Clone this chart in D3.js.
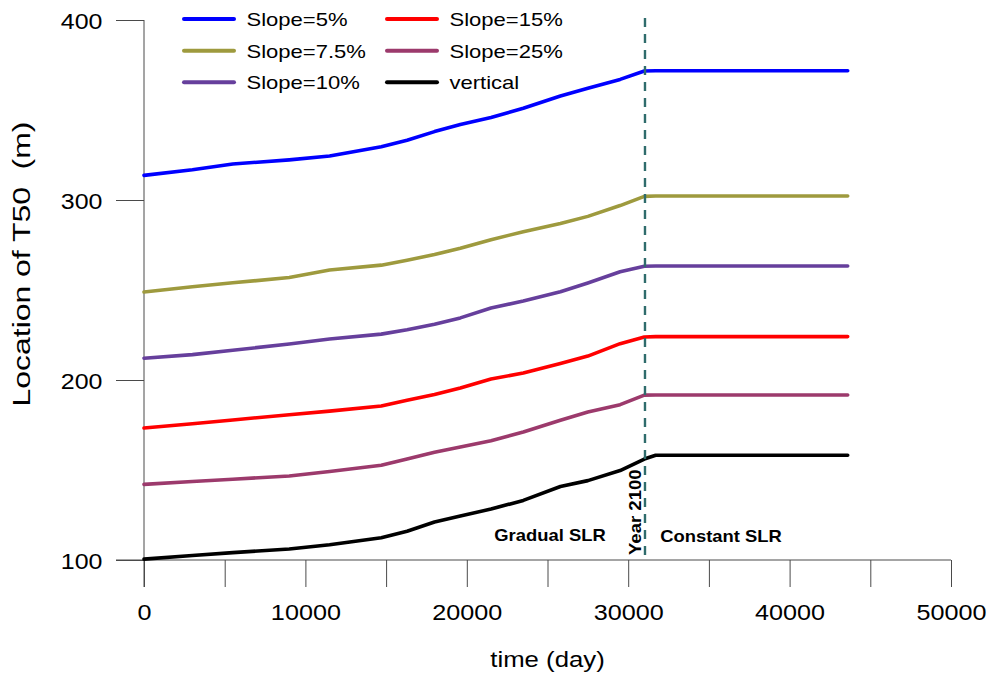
<!DOCTYPE html>
<html>
<head>
<meta charset="utf-8">
<script src="https://cdn.jsdelivr.net/npm/d3@7"></script>
<style>
  html, body { margin: 0; padding: 0; background: #fff; }
  svg { display: block; }
  text { font-family: "Liberation Sans", Arial, Helvetica, sans-serif; fill: #000; }
</style>
</head>
<body>
<svg id="chart" width="993" height="677"></svg>
<script>
// Time (days) at which the shoreline T50 location is sampled
const days = [0, 3000, 5500, 9000, 11500, 14700, 16300, 18000, 19600, 21500, 23500, 25800, 27500, 29500, 31000, 31700, 43600];

// T50 location (m) for each beach slope
const slope5   = [313.7, 316.8, 320.0, 322.3, 324.4, 329.6, 333.2, 338.0, 341.9, 345.8, 351.0, 357.8, 362.1, 367.0, 371.7, 371.8, 371.8];
const slope7_5 = [248.9, 251.8, 254.0, 256.9, 261.1, 263.8, 266.5, 269.7, 273.2, 277.9, 282.4, 287.0, 290.9, 296.9, 302.0, 302.2, 302.2];
const slope10  = [212.1, 214.1, 216.5, 220.0, 222.8, 225.5, 227.9, 231.0, 234.5, 240.0, 243.9, 249.0, 253.9, 260.1, 263.2, 263.3, 263.3];
const slope15  = [173.3, 175.7, 177.8, 180.7, 182.7, 185.6, 188.7, 192.0, 195.6, 200.5, 203.9, 209.2, 213.3, 220.2, 223.9, 224.1, 224.1];
const slope25  = [142.0, 143.6, 144.9, 146.7, 149.2, 152.6, 156.1, 159.9, 162.8, 166.3, 171.1, 177.6, 182.2, 186.3, 191.6, 191.7, 191.7];
const vertical = [100.5, 102.5, 104.1, 106.1, 108.5, 112.4, 116.0, 121.1, 124.4, 128.3, 133.1, 140.8, 144.1, 149.7, 156.1, 158.2, 158.2];

const seriesNames  = ["Slope=5%", "Slope=7.5%", "Slope=10%", "Slope=15%", "Slope=25%", "vertical"];
const seriesValues = [slope5, slope7_5, slope10, slope15, slope25, vertical];
const seriesColors = ["#0000ff", "#9e9a3e", "#663f9c", "#ff0000", "#9c3a6c", "#000000"];

// Axis ticks
const xTicks = d3.range(0, 50001, 5000);
const xLabelTicks = [0, 10000, 20000, 30000, 40000, 50000];
const yTicks = [100, 200, 300, 400];

// End of the gradual sea-level-rise period
const year2100Day = 31040;

const svg = d3.select("#chart");

const x = d3.scaleLinear().domain([0, 50000]).range([144, 951]);
const y = d3.scaleLinear().domain([100, 400]).range([560, 20]);

const axisColor = "#4a4a4a";

// ---- x axis ----
const xAxis = d3.axisBottom(x)
  .tickValues(xTicks)
  .tickSize(27)
  .tickPadding(17)
  .tickFormat(d => xLabelTicks.includes(d) ? String(d) : "");

const gx = svg.append("g")
  .attr("transform", `translate(0,${y(100)})`)
  .call(xAxis);
gx.select(".domain").remove();
gx.selectAll(".tick line").attr("stroke", axisColor);
gx.selectAll(".tick text")
  .attr("font-size", 22.5)
  .attr("font-family", null)
  .attr("fill", "#000")
  .attr("transform", "scale(1.12,1)");

// ---- y axis ----
const yAxis = d3.axisLeft(y)
  .tickValues(yTicks)
  .tickSize(28)
  .tickFormat(d3.format("d"));

const gy = svg.append("g")
  .attr("transform", `translate(${x(0)},0)`)
  .call(yAxis);
gy.select(".domain").remove();
gy.selectAll(".tick line").attr("stroke", axisColor);
gy.selectAll(".tick text")
  .attr("font-size", 22.5)
  .attr("font-family", null)
  .attr("fill", "#000")
  .attr("x", 0)
  .attr("dy", "0.38em")
  .attr("transform", "translate(-41.5,0) scale(1.11,1)");

// axis lines
svg.append("line")
  .attr("x1", x(0) - 28).attr("x2", x(50000))
  .attr("y1", y(100)).attr("y2", y(100))
  .attr("stroke", axisColor).attr("stroke-width", 1);
svg.append("line")
  .attr("x1", x(0)).attr("x2", x(0))
  .attr("y1", y(400)).attr("y2", y(100) + 27)
  .attr("stroke", axisColor).attr("stroke-width", 1);

// ---- axis titles ----
svg.append("text")
  .attr("text-anchor", "middle")
  .attr("font-size", 23)
  .attr("transform", `translate(${(x(0) + x(50000)) / 2},667) scale(1.12,1)`)
  .text("time (day)");

const yTitle = svg.append("text")
  .attr("text-anchor", "middle")
  .attr("font-size", 23)
  .style("white-space", "pre")
  .text("Location of T50  (m)");
const yTitleLen = yTitle.node().getComputedTextLength();
yTitle.attr("transform", `translate(30,264) rotate(-90) scale(${285 / yTitleLen},1)`);

// ---- data lines ----
const line = d3.line()
  .x(d => x(d[0]))
  .y(d => y(d[1]));

seriesValues.forEach((vals, i) => {
  svg.append("path")
    .datum(days.map((t, k) => [t, vals[k]]))
    .attr("fill", "none")
    .attr("stroke", seriesColors[i])
    .attr("stroke-width", 3.6)
    .attr("stroke-linejoin", "round")
    .attr("stroke-linecap", "round")
    .attr("d", line);
});

// ---- Year 2100 marker ----
svg.append("line")
  .attr("x1", x(year2100Day)).attr("x2", x(year2100Day))
  .attr("y1", 18).attr("y2", y(100))
  .attr("stroke", "#2f6c6c")
  .attr("stroke-width", 2.4)
  .attr("stroke-dasharray", "9,7");

svg.append("text")
  .attr("font-size", 16)
  .attr("font-weight", "bold")
  .attr("text-anchor", "start")
  .attr("transform", `translate(${x(year2100Day) - 4},555) rotate(-90) scale(1.16,1)`)
  .text("Year 2100");

svg.append("text")
  .attr("font-size", 16)
  .attr("font-weight", "bold")
  .attr("text-anchor", "middle")
  .attr("transform", "translate(550,541) scale(1.15,1)")
  .text("Gradual SLR");

svg.append("text")
  .attr("font-size", 16)
  .attr("font-weight", "bold")
  .attr("text-anchor", "middle")
  .attr("transform", "translate(721,542) scale(1.15,1)")
  .text("Constant SLR");

// ---- legend (two columns, three rows) ----
const legendCols = [184, 387];
const legendRows = [19, 50.7, 82.3];
seriesNames.forEach((name, i) => {
  const col = Math.floor(i / 3), row = i % 3;
  const lx = legendCols[col], ly = legendRows[row];
  const g = svg.append("g").attr("transform", `translate(${lx},${ly})`);
  g.append("line")
    .attr("x1", 0).attr("x2", 50)
    .attr("y1", 0).attr("y2", 0)
    .attr("stroke", seriesColors[i])
    .attr("stroke-width", 4)
    .attr("stroke-linecap", "round");
  g.append("text")
    .attr("font-size", 19)
    .attr("transform", "translate(62.5,6.8) scale(1.16,1)")
    .text(name);
});
</script>
</body>
</html>
